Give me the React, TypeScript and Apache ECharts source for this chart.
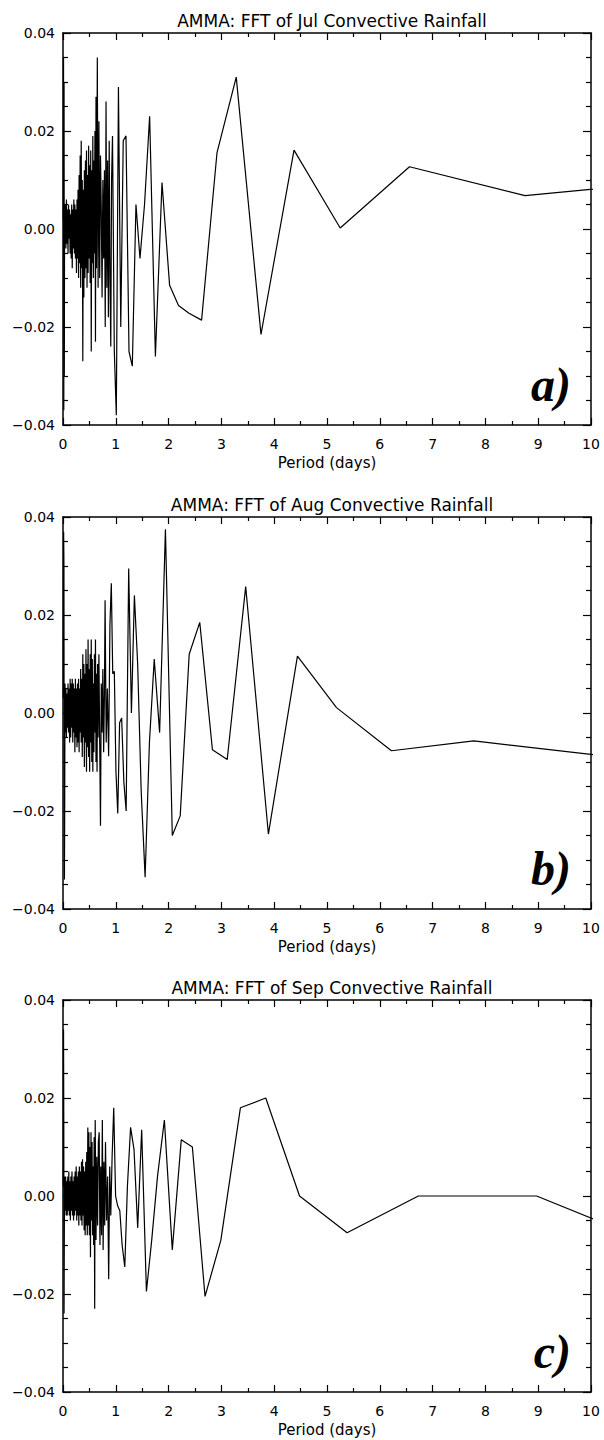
import React, { useEffect, useRef } from "react";
import * as echarts from "echarts";

const TITLES = [
  "AMMA: FFT of Jul Convective Rainfall",
  "AMMA: FFT of Aug Convective Rainfall",
  "AMMA: FFT of Sep Convective Rainfall",
];
const PANEL_TAGS = ["a)", "b)", "c)"];
const X_NAME = "Period (days)";

// [period (days), FFT value]
const julData: number[][] = [
  [0.005, 0.002], [0.01, 0.035], [0.015, -0.037], [0.02, 0.03], [0.025, -0.03],
  [0.03, 0.005], [0.035, -0.003], [0.045, 0.005], [0.055, -0.004], [0.065, 0.006],
  [0.075, -0.003], [0.085, 0.004], [0.095, -0.005], [0.105, 0.005], [0.115, -0.002],
  [0.125, 0.004], [0.135, -0.005], [0.145, 0.003], [0.155, -0.006], [0.165, 0.005],
  [0.175, -0.008], [0.185, 0.004], [0.195, -0.004], [0.205, 0.006], [0.215, -0.005],
  [0.225, 0.005], [0.235, -0.006], [0.245, 0.004], [0.255, -0.009], [0.265, 0.006],
  [0.275, -0.006], [0.285, 0.008], [0.295, -0.01], [0.305, 0.011], [0.315, -0.007],
  [0.325, 0.015], [0.335, -0.012], [0.345, 0.018], [0.355, -0.008], [0.365, 0.01],
  [0.375, -0.027], [0.385, 0.008], [0.395, -0.014], [0.405, 0.012], [0.415, -0.01],
  [0.425, 0.014], [0.435, -0.008], [0.445, 0.016], [0.455, -0.012], [0.465, 0.011],
  [0.475, -0.009], [0.485, 0.017], [0.495, -0.006], [0.505, 0.013], [0.515, -0.011],
  [0.525, 0.016], [0.535, -0.025], [0.545, 0.012], [0.555, -0.007], [0.565, 0.019],
  [0.575, -0.01], [0.585, 0.014], [0.595, -0.005], [0.605, 0.02], [0.615, -0.023],
  [0.625, 0.027], [0.635, -0.008], [0.65, 0.035], [0.665, -0.012], [0.68, 0.022],
  [0.695, -0.01], [0.71, 0.015], [0.725, 0.004], [0.74, -0.014], [0.755, 0.01],
  [0.77, -0.006], [0.785, 0.012], [0.8, -0.02], [0.815, 0.026], [0.83, -0.012],
  [0.845, 0.014], [0.86, -0.018], [0.875, 0.018], [0.89, -0.01], [0.905, -0.024],
  [0.92, 0.01], [0.9375, 0.019], [0.972, -0.025], [1.0096, -0.038], [1.05, 0.029],
  [1.094, -0.02], [1.141, 0.018], [1.193, 0.019], [1.25, -0.025], [1.3125, -0.028],
  [1.382, 0.005], [1.458, -0.006], [1.544, 0.005], [1.641, 0.023], [1.75, -0.026],
  [1.875, 0.0095], [2.019, -0.0115], [2.1875, -0.0156], [2.386, -0.0172], [2.625, -0.0186],
  [2.917, 0.0156], [3.281, 0.031], [3.75, -0.0215], [4.375, 0.0161], [5.25, 0.0002],
  [6.5625, 0.0127], [8.75, 0.0068], [13.125, 0.0113],
];

const augData: number[][] = [
  [0.005, 0.003], [0.012, 0.037], [0.018, 0.03], [0.022, -0.018], [0.027, -0.034],
  [0.032, -0.02], [0.038, 0.006], [0.045, -0.004], [0.055, 0.005], [0.065, -0.005],
  [0.075, 0.004], [0.085, -0.003], [0.095, 0.006], [0.105, -0.004], [0.115, 0.005],
  [0.125, -0.006], [0.135, 0.007], [0.145, -0.005], [0.155, 0.006], [0.165, -0.003],
  [0.175, 0.007], [0.185, -0.006], [0.195, 0.006], [0.205, -0.004], [0.215, 0.005],
  [0.225, -0.008], [0.235, 0.007], [0.245, -0.005], [0.255, 0.005], [0.265, -0.007],
  [0.275, 0.006], [0.285, -0.006], [0.295, 0.007], [0.305, -0.008], [0.315, 0.005],
  [0.325, -0.004], [0.335, 0.009], [0.345, -0.006], [0.355, 0.007], [0.365, -0.009],
  [0.375, 0.012], [0.385, -0.005], [0.395, 0.01], [0.405, -0.011], [0.415, 0.008],
  [0.425, -0.006], [0.435, 0.013], [0.445, -0.012], [0.455, 0.01], [0.465, -0.007],
  [0.475, 0.015], [0.485, -0.009], [0.495, 0.009], [0.505, -0.012], [0.515, 0.012],
  [0.525, -0.006], [0.535, 0.015], [0.545, -0.01], [0.555, 0.011], [0.565, -0.012],
  [0.575, 0.006], [0.585, -0.008], [0.595, 0.012], [0.605, -0.004], [0.615, 0.015],
  [0.625, -0.01], [0.635, 0.008], [0.645, -0.012], [0.655, 0.01], [0.665, -0.005],
  [0.68, 0.012], [0.695, -0.006], [0.71, -0.023], [0.725, 0.006], [0.74, -0.004],
  [0.755, 0.009], [0.77, -0.008], [0.785, 0.004], [0.797, 0.023], [0.818, -0.006],
  [0.84, 0.005], [0.864, -0.0088], [0.889, 0.018], [0.915, 0.0265], [0.942, 0.008],
  [0.972, 0.0085], [1.003, -0.012], [1.037, -0.0205], [1.072, -0.002], [1.111, -0.001],
  [1.152, -0.014], [1.196, -0.02], [1.244, 0.0295], [1.296, 0.0], [1.352, 0.024],
  [1.414, 0.01], [1.481, -0.016], [1.555, -0.0335], [1.637, -0.006], [1.728, 0.011],
  [1.83, -0.004], [1.94, 0.0375], [2.07, -0.025], [2.22, -0.021], [2.39, 0.012],
  [2.59, 0.0185], [2.83, -0.0075], [3.11, -0.0095], [3.46, 0.0258], [3.89, -0.0247],
  [4.44, 0.0116], [5.18, 0.0011], [6.22, -0.0077], [7.78, -0.0057], [10.37, -0.0089],
];

const sepData: number[][] = [
  [0.005, 0.002], [0.01, 0.034], [0.015, 0.014], [0.02, -0.024], [0.025, -0.008],
  [0.03, 0.004], [0.04, -0.003], [0.05, 0.004], [0.06, -0.004], [0.07, 0.003],
  [0.08, -0.004], [0.09, 0.004], [0.1, -0.003], [0.11, 0.005], [0.12, -0.004],
  [0.13, 0.003], [0.14, -0.005], [0.15, 0.004], [0.16, -0.003], [0.17, 0.005],
  [0.18, -0.004], [0.19, 0.003], [0.2, -0.005], [0.21, 0.004], [0.22, -0.004],
  [0.23, 0.005], [0.24, -0.003], [0.25, 0.006], [0.26, -0.005], [0.27, 0.004],
  [0.28, -0.004], [0.29, 0.005], [0.3, -0.006], [0.31, 0.006], [0.32, -0.004],
  [0.33, 0.005], [0.34, -0.005], [0.35, 0.007], [0.36, -0.006], [0.37, 0.0075],
  [0.38, -0.004], [0.39, 0.006], [0.4, -0.007], [0.41, 0.005], [0.42, -0.008],
  [0.43, 0.007], [0.44, -0.006], [0.45, 0.009], [0.46, -0.008], [0.47, 0.014],
  [0.48, -0.006], [0.49, 0.013], [0.5, -0.008], [0.51, 0.01], [0.52, -0.0125],
  [0.53, 0.013], [0.54, -0.005], [0.55, 0.011], [0.56, -0.008], [0.57, 0.006],
  [0.58, -0.01], [0.59, 0.012], [0.6, -0.023], [0.61, 0.0155], [0.625, -0.009],
  [0.64, 0.008], [0.655, -0.006], [0.67, 0.011], [0.685, 0.013], [0.7, -0.01],
  [0.715, 0.006], [0.73, -0.008], [0.745, 0.0155], [0.76, -0.011], [0.775, 0.007],
  [0.79, -0.006], [0.805, 0.011], [0.825, -0.005], [0.845, 0.004], [0.865, -0.017],
  [0.885, 0.006], [0.905, -0.004], [0.93, 0.008], [0.961, 0.018], [0.996, 0.0],
  [1.035, -0.002], [1.076, -0.003], [1.12, -0.01], [1.17, -0.0145], [1.22, 0.002],
  [1.28, 0.014], [1.345, 0.0095], [1.415, -0.0065], [1.49, 0.0135], [1.58, -0.0195],
  [1.68, -0.009], [1.79, 0.004], [1.92, 0.0155], [2.07, -0.011], [2.24, 0.0115],
  [2.45, 0.01], [2.69, -0.0205], [2.99, -0.009], [3.36, 0.018], [3.84, 0.02],
  [4.48, 0.0], [5.38, -0.0075], [6.73, 0.0], [8.97, 0.0], [13.45, -0.0196],
];

const SERIES = [julData, augData, sepData];

const GRID_TOPS = [33, 517, 1000];
const GRID_LEFT = 63;
const GRID_W = 528;
const GRID_H = 392;
const FONT = "DejaVu Sans";

const lineStyle = { color: "#000", width: 1.5 };

function fmtY(v: number) {
  return v.toFixed(2).replace("-", "\u2212");
}

export default function App() {
  const ref = useRef<HTMLDivElement>(null);
  useEffect(() => {
    if (!ref.current) return;
    const chart = echarts.init(ref.current, undefined, { renderer: "svg" });
    const grids: any[] = [];
    const xAxes: any[] = [];
    const yAxes: any[] = [];
    const series: any[] = [];
    const titles: any[] = [];
    const graphics: any[] = [];
    GRID_TOPS.forEach((top, i) => {
      grids.push({ left: GRID_LEFT, top, width: GRID_W, height: GRID_H });
      const xBase = {
        type: "value",
        gridIndex: i,
        min: 0,
        max: 10,
        interval: 1,
        splitLine: { show: false },
        axisLine: { show: true, onZero: false, lineStyle },
        axisTick: { show: true, inside: true, length: 7, lineStyle: { color: "#000", width: 1.2 } },
        minorTick: { show: true, splitNumber: 2, length: 4, lineStyle: { color: "#000", width: 1.2 } },
        minorSplitLine: { show: false },
      };
      xAxes.push({
        ...xBase,
        position: "bottom",
        axisLabel: { color: "#000", fontFamily: FONT, fontSize: 14, margin: 12 },
        name: X_NAME,
        nameLocation: "middle",
        nameGap: 30,
        nameTextStyle: { color: "#000", fontFamily: FONT, fontSize: 15 },
      });
      xAxes.push({ ...xBase, position: "top", axisLabel: { show: false } });
      const yBase = {
        type: "value",
        gridIndex: i,
        min: -0.04,
        max: 0.04,
        interval: 0.02,
        splitLine: { show: false },
        axisLine: { show: true, onZero: false, lineStyle },
        axisTick: { show: true, inside: true, length: 8, lineStyle: { color: "#000", width: 1.2 } },
        minorTick: { show: true, splitNumber: 4, length: 5, lineStyle: { color: "#000", width: 1.2 } },
        minorSplitLine: { show: false },
      };
      yAxes.push({
        ...yBase,
        position: "left",
        axisLabel: {
          color: "#000",
          fontFamily: FONT,
          fontSize: 14,
          margin: 8,
          formatter: fmtY,
        },
      });
      yAxes.push({ ...yBase, position: "right", axisLabel: { show: false } });
      series.push({
        type: "line",
        xAxisIndex: 2 * i,
        yAxisIndex: 2 * i,
        data: SERIES[i],
        showSymbol: false,
        symbol: "none",
        clip: true,
        lineStyle: { color: "#000", width: 1.2 },
      });
      titles.push({
        text: TITLES[i],
        left: GRID_LEFT + GRID_W / 2,
        textAlign: "center",
        top: top - 26,
        textStyle: { color: "#000", fontFamily: FONT, fontSize: 17, fontWeight: "normal" },
      });
      graphics.push({
        type: "text",
        x: 571,
        y: top + GRID_H - 17,
        style: {
          text: PANEL_TAGS[i],
          fill: "#000",
          font: "italic bold 48px 'Liberation Serif'",
          textAlign: "right",
          textVerticalAlign: "bottom",
        },
      });
    });
    chart.setOption({
      animation: false,
      backgroundColor: "#fff",
      title: titles,
      grid: grids,
      xAxis: xAxes,
      yAxis: yAxes,
      series,
      graphic: graphics,
    });
    return () => chart.dispose();
  }, []);
  return (
    <div
      ref={ref}
      style={{ position: "absolute", left: 0, top: 0, width: 604, height: 1440, background: "#fff" }}
    />
  );
}
